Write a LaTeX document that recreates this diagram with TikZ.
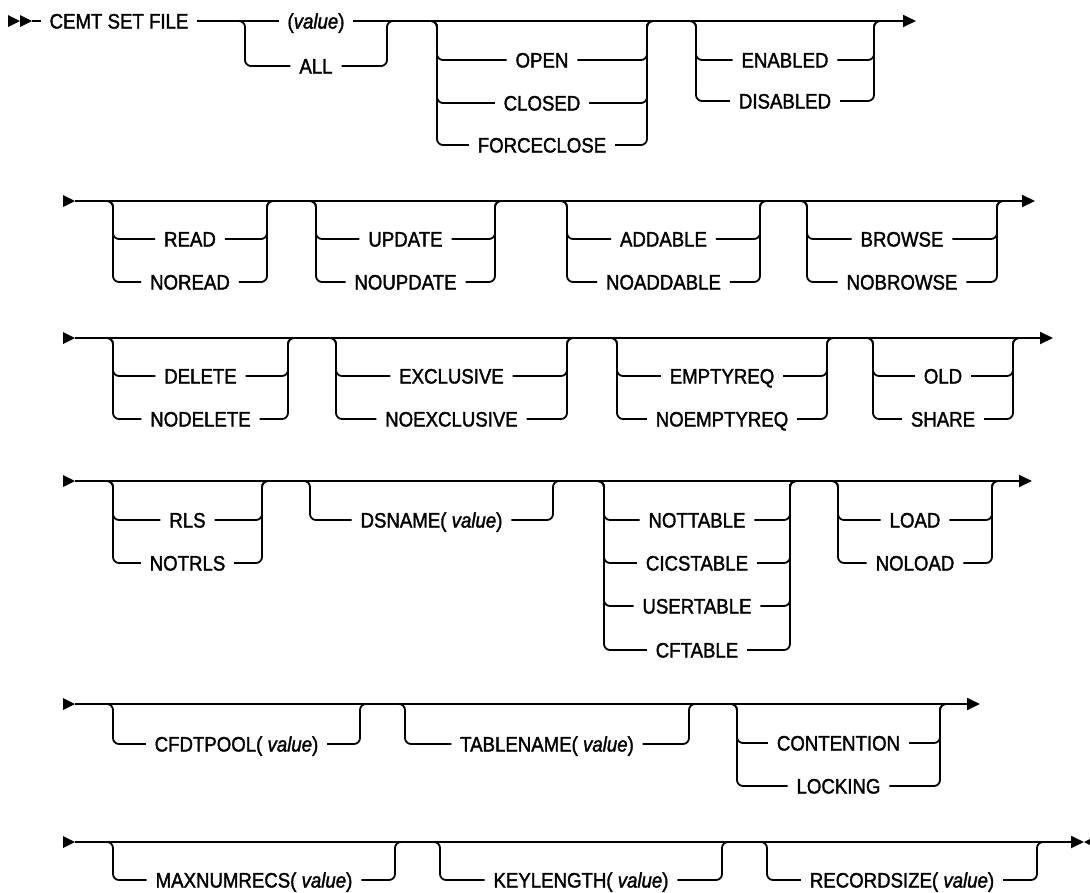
\documentclass[tikz,border=0pt]{standalone}
\usepackage{fontspec}
\setmainfont{Liberation Sans}[FakeStretch=0.89, FakeBold=1.6]
\usetikzlibrary{arrows.meta}
\tikzset{
  ln/.style={line width=1.35pt, rounded corners=4.5pt},
  lbl/.style={inner xsep=6.5pt, inner ysep=0pt, text height=11.3pt, text depth=0pt, font=\fontsize{15.7}{17}\selectfont},
  endarrow/.style={-{Triangle[length=9.75pt,width=9pt]}},
}
\newcommand{\optgrp}[4]{%
  \foreach \yy/\nm/\tx in {#4}{%
    \node[lbl] (\nm) at ({(#1+#2)/2},\yy) {\tx};
    \draw[ln] ({#1-12},#3) -- (#1,#3) -- (#1,\yy) -- (\nm.west);
    \draw[ln] (\nm.east) -- (#2,\yy) -- (#2,#3) -- ({#2+12},#3);
  }}
\newcommand{\startmark}[2]{\fill (#1,{#2-6}) -- ({#1+12},#2) -- (#1,{#2+6}) -- cycle;}
\begin{document}
\begin{tikzpicture}[x=0.75pt,y=-0.75pt]
\fill[white] (0,0) rectangle (1090,893);
\useasboundingbox (0,0) rectangle (1090,893);
% ---------- row 1
\fill (8,15) -- (20,21) -- (8,27) -- cycle;
\fill (20,15) -- (32,21) -- (20,27) -- cycle;
\coordinate (r1s) at (32,21);
\node[lbl] (cemt) at (119,21) {CEMT SET FILE};
\node[lbl] (value) at (316,21) {(\textit{value})};
\coordinate (r1e) at (916,21);
\draw[ln] (r1s) -- (cemt.west);
\draw[ln] (cemt.east) -- (value.west);
\draw[ln,endarrow] (value.east) -- (r1e);
\optgrp{245}{387}{21}{66/all/ALL}
\optgrp{437}{647}{21}{60/open/OPEN,103/closed/CLOSED,145/forceclose/FORCECLOSE}
\optgrp{696}{874}{21}{60/enabled/ENABLED,101/disabled/DISABLED}
% ---------- row 2
\startmark{63}{201}
\coordinate (r2s) at (75,201);
\coordinate (r2e) at (1035,201);
\draw[ln,endarrow] (r2s) -- (r2e);
\optgrp{113}{267}{201}{239/read/READ,282/noread/NOREAD}
\optgrp{316}{495}{201}{239/update/UPDATE,282/noupdate/NOUPDATE}
\optgrp{567}{760}{201}{239/addable/ADDABLE,282/noaddable/NOADDABLE}
\optgrp{807}{997}{201}{239/browse/BROWSE,282/nobrowse/NOBROWSE}
% ---------- row 3
\startmark{63}{338}
\coordinate (r3s) at (75,338);
\coordinate (r3e) at (1053,338);
\draw[ln,endarrow] (r3s) -- (r3e);
\optgrp{113}{288}{338}{376/delete/DELETE,419/nodelete/NODELETE}
\optgrp{336}{567}{338}{376/exclusive/EXCLUSIVE,419/noexclusive/NOEXCLUSIVE}
\optgrp{617}{827}{338}{376/emptyreq/EMPTYREQ,419/noemptyreq/NOEMPTYREQ}
\optgrp{873}{1013}{338}{376/old/OLD,419/share/SHARE}
% ---------- row 4
\startmark{63}{481}
\coordinate (r4s) at (75,481);
\coordinate (r4e) at (1032,481);
\draw[ln,endarrow] (r4s) -- (r4e);
\optgrp{113}{262}{481}{520/rls/RLS,563/notrls/NOTRLS}
\optgrp{310}{553}{481}{520/dsname/DSNAME( \textit{value})}
\optgrp{604}{790}{481}{520/nottable/NOTTABLE,563/cicstable/CICSTABLE,606/usertable/USERTABLE,650/cftable/CFTABLE}
\optgrp{838}{992}{481}{520/load/LOAD,563/noload/NOLOAD}
% ---------- row 5
\startmark{63}{704}
\coordinate (r5s) at (75,704);
\coordinate (r5e) at (980,704);
\draw[ln,endarrow] (r5s) -- (r5e);
\optgrp{113}{360}{704}{744/cfdtpool/CFDTPOOL( \textit{value})}
\optgrp{405}{689}{704}{744/tablename/TABLENAME( \textit{value})}
\optgrp{737}{940}{704}{743/contention/CONTENTION,786/locking/LOCKING}
% ---------- row 6
\startmark{63}{842}
\coordinate (r6s) at (75,842);
\coordinate (r6e) at (1084,842);
\draw[ln,endarrow] (r6s) -- (r6e);
\fill (1084,842) -- (1096,836) -- (1096,848) -- cycle;
\optgrp{113}{395}{842}{880/maxnumrecs/MAXNUMRECS( \textit{value})}
\optgrp{440}{722}{842}{880/keylength/KEYLENGTH( \textit{value})}
\optgrp{767}{1037}{842}{880/recordsize/RECORDSIZE( \textit{value})}
\end{tikzpicture}
\end{document}
